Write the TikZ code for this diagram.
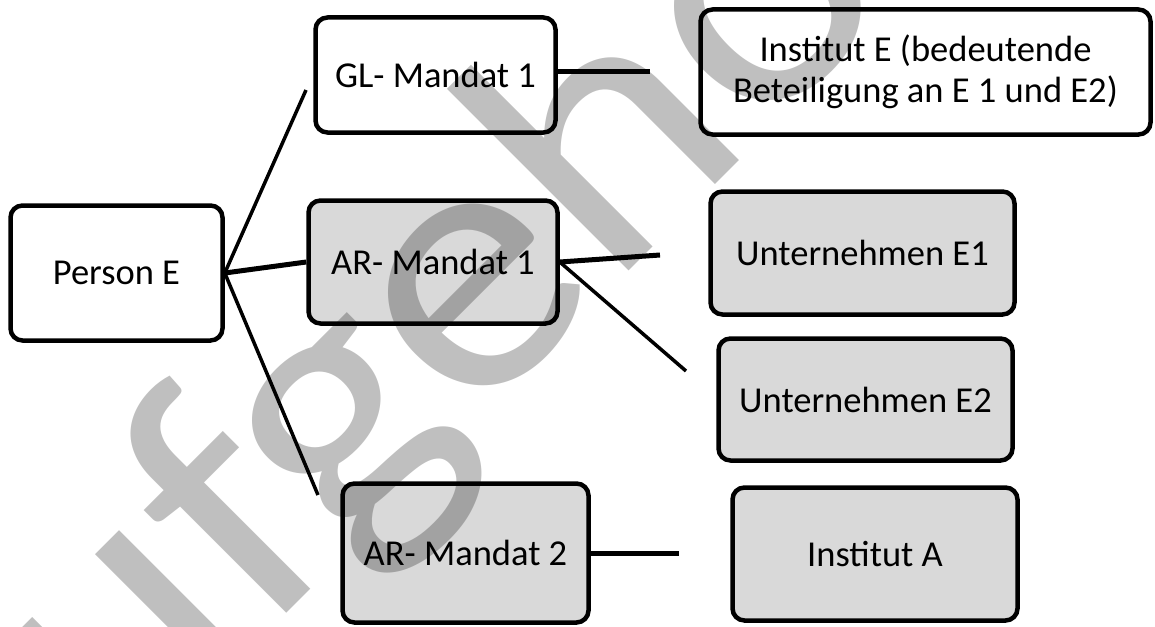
\documentclass[tikz,border=0pt]{standalone}
\usepackage{fontspec}
\setmainfont{Carlito}
\begin{document}
\begin{tikzpicture}[x=1pt,y=-1pt,
  box/.style={draw=black, line width=4.5pt, rounded corners=12pt, align=center,
    inner sep=0pt, fill=white, font=\fontsize{36.5}{41}\selectfont},
  greybox/.style={box, fill=boxgrey},
  thinline/.style={line width=3.5pt},
  thickline/.style={line width=5pt},
  watermark/.style={text=black, text opacity=0.25, inner sep=0pt,
    font=\fontsize{370}{370}\selectfont}
]
\definecolor{boxgrey}{HTML}{D9D9D9}
\fill[white] (0,0) rectangle (1155,626);
\useasboundingbox (0,0) rectangle (1155,626);

\node[box, minimum width=212pt, minimum height=135pt] (pe) at (116.5,273) {Person E};
\node[box, minimum width=240pt, minimum height=115pt] (gl) at (435.5,75) {GL- Mandat 1};
\node[box, minimum width=450pt, minimum height=125pt] (ie) at (925.5,72) {Institut E (bedeutende\\Beteiligung an E 1 und E2)};
\node[greybox, minimum width=249pt, minimum height=123pt] (ar1) at (433,262) {AR- Mandat 1};
\node[greybox, minimum width=304pt, minimum height=123pt] (e1) at (862.5,253) {Unternehmen E1};
\node[greybox, minimum width=294pt, minimum height=122pt] (e2) at (865.5,399.5) {Unternehmen E2};
\node[greybox, minimum width=246pt, minimum height=139pt] (ar2) at (465.5,553) {AR- Mandat 2};
\node[greybox, minimum width=285pt, minimum height=133pt] (ia) at (875,554) {Institut A};

\coordinate (c1) at (306,90);
\coordinate (c2) at (318,495);
\coordinate (c3) at (650,71);
\coordinate (c4) at (660,255);
\coordinate (c5) at (686,371);
\coordinate (c6) at (679,553);

\draw[thinline] (pe.east) -- (c1);
\draw[thickline] (pe.east) -- (ar1.west);
\draw[thinline] (pe.east) -- (c2);
\draw[thickline] (gl.east |- c3) -- (c3);
\draw[thickline] (ar1.east) -- (c4);
\draw[thinline] (ar1.east) -- (c5);
\draw[thickline] (ar2.east) -- (c6);

\node[watermark, rotate=45, xscale=1.07, anchor=base west] (wm) at (-18,918) {aufgehoben};
\end{tikzpicture}
\end{document}
